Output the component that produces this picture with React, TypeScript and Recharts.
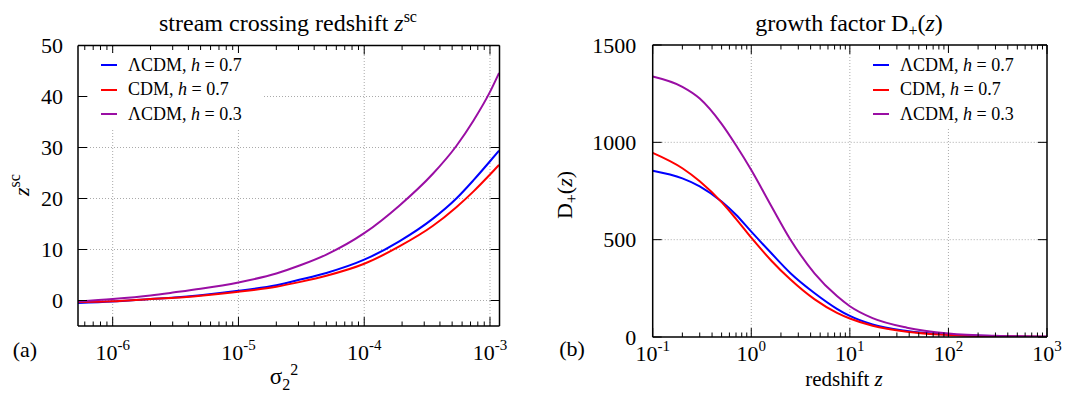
import React from 'react';
import { LineChart, Line, XAxis, YAxis, ReferenceLine, Legend } from 'recharts';

const FONT = '"Liberation Serif", "DejaVu Serif", serif';

// (a) stream crossing redshift z_sc against sigma_2^2
const sigmaSq = [5.3e-7, 1e-6, 2e-6, 3.1e-6, 5e-6, 1e-5, 2e-5, 3.1e-5, 5e-5, 1e-4, 1.9e-4, 3.5e-4, 5.4e-4, 7.4e-4, 1e-3, 1.18e-3];
const zscLcdm07 = [-0.5, -0.2, 0.3, 0.6, 1.05, 1.9, 3.0, 4.1, 5.4, 8.0, 11.6, 16.0, 20.0, 23.6, 27.3, 29.4];
const zscCdm07 = [-0.3, -0.15, 0.3, 0.55, 0.95, 1.7, 2.7, 3.65, 4.85, 7.2, 10.6, 14.6, 18.3, 21.4, 24.7, 26.6];
const zscLcdm03 = [-0.2, 0.3, 1.0, 1.6, 2.3, 3.55, 5.3, 6.9, 9.0, 13.2, 18.6, 24.8, 30.3, 35.3, 40.9, 44.6];

// (b) growth factor D+(z) against redshift
const redshift = [0.1, 0.2, 0.3, 0.5, 0.7, 1, 1.6, 2.5, 4.4, 7.4, 10, 17, 38, 100, 300, 1000];
const dLcdm07 = [854, 815, 774, 696, 628, 541, 430, 328, 225, 145, 108, 64, 31, 12.5, 4.2, 1.3];
const dCdm07 = [946, 867, 800, 693, 607, 510, 392, 295, 193, 124, 95, 58, 27, 10.3, 3.5, 1];
const dLcdm03 = [1338, 1285, 1225, 1095, 985, 858, 672, 500, 326, 210, 158, 97, 48, 18.5, 6, 1.8];

const seriesKeys = ['lcdm07', 'cdm07', 'lcdm03'];
const seriesColors = ['#0000ff', '#ff0000', '#9a0ea4'];
const seriesModels = ['\u039BCDM', 'CDM', '\u039BCDM'];
const seriesH = ['0.7', '0.7', '0.3'];

const leftMajorX = [1e-6, 1e-5, 1e-4, 1e-3];
const rightMajorX = [0.1, 1, 10, 100, 1000];
const minorSteps = [2, 3, 4, 5, 6, 7, 8, 9];
const leftYTicks = [0, 10, 20, 30, 40, 50];
const rightYTicks = [0, 500, 1000, 1500];

const leftDomain = [5.3e-7, 1.19e-3];
const rightDomain = [0.1, 1000];

const leftRows = sigmaSq.map((s, i) => ({ x: s, lcdm07: zscLcdm07[i], cdm07: zscCdm07[i], lcdm03: zscLcdm03[i] }));
const rightRows = redshift.map((z, i) => ({ x: z, lcdm07: dLcdm07[i], cdm07: dCdm07[i], lcdm03: dLcdm03[i] }));

// all major + minor tick values inside a log domain
const logTicks = (domain: number[]) => {
  const out: number[] = [];
  const lo = Math.floor(Math.log10(domain[0]));
  const hi = Math.ceil(Math.log10(domain[1]));
  for (let e = lo; e <= hi; e++) {
    const base = Math.pow(10, e);
    [1, ...minorSteps].forEach(m => {
      const v = parseFloat((m * base).toPrecision(6));
      if (v >= domain[0] * 0.999 && v <= domain[1] * 1.001) out.push(v);
    });
  }
  return out;
};

const isMajor = (v: number, majors: number[]) => majors.some(m => Math.abs(m - v) / m < 1e-6);

const bottomTick = (majors: number[], labelDy: number) => (props: any) => {
  const { x, y, payload } = props;
  const v = payload.value;
  const major = isMajor(v, majors);
  const exp = Math.round(Math.log10(v));
  return (
    <g>
      <line x1={x} y1={y} x2={x} y2={y - (major ? 9 : 4.5)} stroke="#000" strokeWidth={1} />
      {major && (
        <text x={x} y={y + labelDy} textAnchor="middle" fontFamily={FONT} fontSize={22} fill="#000">
          10<tspan dy={-10} fontSize={15}>{exp}</tspan>
        </text>
      )}
    </g>
  );
};

const topTick = (majors: number[]) => (props: any) => {
  const { x, y, payload } = props;
  const major = isMajor(payload.value, majors);
  return <line x1={x} y1={y} x2={x} y2={y + (major ? 9 : 4.5)} stroke="#000" strokeWidth={1} />;
};

const leftYTick = (gap: number) => (props: any) => {
  const { x, y, payload } = props;
  return (
    <g>
      <line x1={x} y1={y} x2={x + 9} y2={y} stroke="#000" strokeWidth={1} />
      <text x={x - gap} y={y + 7.5} textAnchor="end" fontFamily={FONT} fontSize={22} fill="#000">
        {payload.value}
      </text>
    </g>
  );
};

const rightYTick = (props: any) => {
  const { x, y } = props;
  return <line x1={x} y1={y} x2={x - 9} y2={y} stroke="#000" strokeWidth={1} />;
};

const renderLegend = () => (
  <div style={{ background: '#fff', fontFamily: FONT, fontSize: 18, color: '#000', height: 76 }}>
    {seriesKeys.map((k, i) => (
      <div key={k} style={{ display: 'flex', alignItems: 'center', height: 24.5, whiteSpace: 'nowrap' }}>
        <span style={{ display: 'inline-block', width: 16, height: 2, background: seriesColors[i], marginLeft: 11, marginRight: 11 }} />
        <span>{seriesModels[i]}, <i>h</i> = {seriesH[i]}</span>
      </div>
    ))}
  </div>
);

const gridStyle = { stroke: '#aaaaaa', strokeDasharray: '1 2', strokeWidth: 1 };
const axisLine = { stroke: '#000', strokeWidth: 1.5 };

type PanelProps = {
  rows: any[];
  domain: number[];
  majors: number[];
  yDomain: number[];
  yTicks: number[];
  gridX: number[];
  gridY: number[];
  width: number;
  margin: { top: number; right: number; bottom: number; left: number };
  labelDy: number;
  yGap: number;
  legendPos: { left: number; top: number; width: number };
};

const Panel = ({ rows, domain, majors, yDomain, yTicks, gridX, gridY, width, margin, labelDy, yGap, legendPos }: PanelProps) => {
  const ticks = logTicks(domain);
  return (
    <LineChart width={width} height={394} data={rows} margin={margin}>
      {gridX.map(v => <ReferenceLine key={'gx' + v} x={v} {...gridStyle} />)}
      {gridY.map(v => <ReferenceLine key={'gy' + v} y={v} {...gridStyle} />)}
      <XAxis dataKey="x" type="number" scale="log" domain={domain} ticks={ticks} interval={0} height={1}
        tickSize={0} tickMargin={0} tickLine={false} axisLine={axisLine} tick={bottomTick(majors, labelDy)} allowDataOverflow />
      <XAxis xAxisId="top" orientation="top" dataKey="x" type="number" scale="log" domain={domain} ticks={ticks} interval={0} height={1}
        tickSize={0} tickMargin={0} tickLine={false} axisLine={axisLine} tick={topTick(majors)} allowDataOverflow />
      <YAxis type="number" domain={yDomain} ticks={yTicks} interval={0} width={1}
        tickSize={0} tickMargin={0} tickLine={false} axisLine={axisLine} tick={leftYTick(yGap)} allowDataOverflow />
      <YAxis yAxisId="right" orientation="right" type="number" domain={yDomain} ticks={yTicks} interval={0} width={1}
        tickSize={0} tickMargin={0} tickLine={false} axisLine={axisLine} tick={rightYTick} allowDataOverflow />
      <Legend layout="vertical" align="center" verticalAlign="middle" content={renderLegend}
        wrapperStyle={{ left: legendPos.left, top: legendPos.top, width: legendPos.width, height: 76 }} />
      {seriesKeys.map((k, i) => (
        <Line key={k} dataKey={k} type="monotone" stroke={seriesColors[i]} strokeWidth={2} dot={false} isAnimationActive={false} />
      ))}
    </LineChart>
  );
};

const App = () => (
  <div style={{ position: 'absolute', left: 0, top: 0, width: 1065, height: 394, background: '#fff' }}>
    <div style={{ position: 'absolute', left: 0, top: 0 }}>
      <Panel rows={leftRows} domain={leftDomain} majors={leftMajorX} yDomain={[-5, 50]} yTicks={leftYTicks}
        gridX={leftMajorX} gridY={[0, 10, 20, 30, 40]} width={530}
        margin={{ top: 44.5, right: 29.5, bottom: 67, left: 77 }} labelDy={34} yGap={15}
        legendPos={{ left: 90, top: 53, width: 172 }} />
    </div>
    <div style={{ position: 'absolute', left: 530, top: 0 }}>
      <Panel rows={rightRows} domain={rightDomain} majors={rightMajorX} yDomain={[0, 1500]} yTicks={rightYTicks}
        gridX={[1, 10, 100]} gridY={[500, 1000]} width={535}
        margin={{ top: 44, right: 17, bottom: 56, left: 121.7 }} labelDy={24} yGap={16.5}
        legendPos={{ left: 332, top: 53, width: 175 }} />
    </div>
    <svg width={1065} height={394} style={{ position: 'absolute', left: 0, top: 0, pointerEvents: 'none' }}
      fontFamily={FONT} fill="#000">
      <text x={288} y={31} textAnchor="middle" fontSize={24}>
        stream crossing redshift <tspan fontStyle="italic">z</tspan><tspan dy={-9} fontSize={16}>sc</tspan>
      </text>
      <text x={849} y={31} textAnchor="middle" fontSize={24}>
        growth factor D<tspan dy={5} fontSize={16}>+</tspan><tspan dy={-5}>(</tspan><tspan fontStyle="italic">z</tspan>)
      </text>
      <text transform="translate(29,185) rotate(-90)" textAnchor="middle" fontSize={22}>
        <tspan fontStyle="italic">z</tspan><tspan dy={-9} fontSize={16}>sc</tspan>
      </text>
      <text transform="translate(572,195) rotate(-90)" textAnchor="middle" fontSize={22}>
        D<tspan dy={5} fontSize={16}>+</tspan><tspan dy={-5}>(</tspan><tspan fontStyle="italic">z</tspan>)
      </text>
      <text x={284} y={384} textAnchor="middle" fontSize={23}>
        {'\u03C3'}<tspan dy={6} fontSize={16}>2</tspan><tspan dy={-15} fontSize={16}>2</tspan>
      </text>
      <text x={844} y={386} textAnchor="middle" fontSize={21}>
        redshift <tspan fontStyle="italic">z</tspan>
      </text>
      <text x={25} y={357} textAnchor="middle" fontSize={22}>(a)</text>
      <text x={572} y={356} textAnchor="middle" fontSize={22}>(b)</text>
    </svg>
  </div>
);

export default App;
